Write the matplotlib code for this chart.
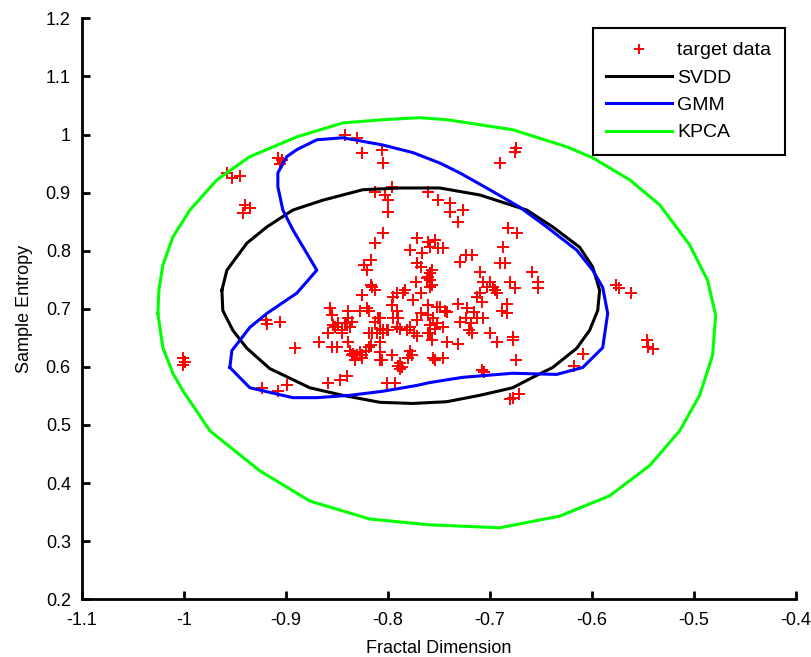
import numpy as np
import matplotlib
matplotlib.use("Agg")
import matplotlib.pyplot as plt

plt.rcParams['font.family'] = ['Liberation Sans', 'DejaVu Sans']

# target samples: (fractal dimension, sample entropy)
target_x = [
    -0.842, -0.830, -0.825, -0.806, -0.805, -0.908, -0.904, -0.906, -0.958, -0.953,
    -0.945, -0.940, -0.935, -0.942, -0.674, -0.675, -0.690, -1.001, -0.999, -1.001,
    -0.919, -0.906, -0.918, -0.891, -0.923, -0.908, -0.899, -0.576, -0.573, -0.561,
    -0.546, -0.545, -0.540, -0.609, -0.617, -0.680, -0.677, -0.671, -0.708, -0.706,
    -0.813, -0.803, -0.800, -0.800, -0.796, -0.805, -0.813, -0.816, -0.823, -0.820,
    -0.816, -0.813, -0.825, -0.761, -0.751, -0.739, -0.739, -0.726, -0.731, -0.682,
    -0.673, -0.687, -0.771, -0.761, -0.754, -0.759, -0.751, -0.746, -0.778, -0.766,
    -0.771, -0.767, -0.759, -0.761, -0.757, -0.759, -0.757, -0.762, -0.772, -0.723,
    -0.717, -0.729, -0.690, -0.685, -0.710, -0.707, -0.700, -0.703, -0.697, -0.693,
    -0.710, -0.712, -0.708, -0.680, -0.675, -0.659, -0.653, -0.653, -0.783, -0.791,
    -0.795, -0.796, -0.775, -0.761, -0.752, -0.767, -0.759, -0.785, -0.749, -0.744,
    -0.731, -0.722, -0.712, -0.683, -0.688, -0.683, -0.695,
    -0.808, -0.801, -0.805, -0.795, -0.790, -0.771, -0.767, -0.761, -0.756, -0.742,
    -0.759, -0.754, -0.759, -0.757, -0.746, -0.752, -0.715, -0.723, -0.718, -0.720,
    -0.707, -0.729, -0.717, -0.700, -0.693, -0.677, -0.677, -0.774, -0.778, -0.788,
    -0.781, -0.771, -0.761, -0.742, -0.731, -0.808, -0.796, -0.788, -0.788, -0.778,
    -0.776, -0.780, -0.756, -0.754, -0.746, -0.801, -0.793, -0.674,
    -0.857, -0.855, -0.839, -0.839, -0.827, -0.818, -0.825, -0.815, -0.810, -0.813,
    -0.791, -0.820, -0.867, -0.855, -0.859, -0.850, -0.849, -0.852, -0.845, -0.840,
    -0.835, -0.845, -0.839, -0.837, -0.835, -0.830, -0.827, -0.825, -0.832, -0.818,
    -0.821, -0.818, -0.815, -0.811, -0.808, -0.805, -0.800, -0.791, -0.808, -0.808,
    -0.806, -0.790, -0.786, -0.859, -0.847, -0.840, -0.854, -0.842, -0.837, -0.834,
    -0.825, -0.816,
]
target_y = [
    1.000, 0.994, 0.969, 0.974, 0.951, 0.960, 0.956, 0.950, 0.934, 0.925,
    0.929, 0.879, 0.874, 0.865, 0.977, 0.970, 0.951, 0.616, 0.609, 0.604,
    0.680, 0.677, 0.673, 0.632, 0.563, 0.559, 0.568, 0.741, 0.735, 0.728,
    0.646, 0.634, 0.630, 0.623, 0.602, 0.545, 0.547, 0.554, 0.594, 0.592,
    0.901, 0.896, 0.887, 0.867, 0.910, 0.830, 0.813, 0.784, 0.775, 0.767,
    0.741, 0.732, 0.723, 0.901, 0.887, 0.882, 0.867, 0.870, 0.849, 0.839,
    0.830, 0.806, 0.822, 0.815, 0.818, 0.806, 0.804, 0.804, 0.801, 0.796,
    0.779, 0.772, 0.761, 0.754, 0.767, 0.749, 0.741, 0.753, 0.746, 0.792,
    0.792, 0.780, 0.779, 0.779, 0.763, 0.746, 0.746, 0.737, 0.737, 0.728,
    0.727, 0.720, 0.711, 0.746, 0.735, 0.763, 0.746, 0.735, 0.732, 0.727,
    0.720, 0.706, 0.715, 0.706, 0.703, 0.727, 0.737, 0.728, 0.703, 0.697,
    0.709, 0.701, 0.684, 0.709, 0.697, 0.692, 0.732,
    0.685, 0.663, 0.659, 0.685, 0.685, 0.680, 0.692, 0.689, 0.685, 0.694,
    0.672, 0.666, 0.659, 0.646, 0.668, 0.675, 0.694, 0.685, 0.675, 0.663,
    0.684, 0.677, 0.659, 0.658, 0.642, 0.651, 0.646, 0.659, 0.668, 0.666,
    0.663, 0.654, 0.658, 0.642, 0.640, 0.611, 0.620, 0.606, 0.597, 0.628,
    0.620, 0.616, 0.616, 0.611, 0.616, 0.573, 0.573, 0.611,
    0.701, 0.689, 0.697, 0.685, 0.697, 0.697, 0.723, 0.737, 0.685, 0.677,
    0.697, 0.701, 0.642, 0.634, 0.658, 0.634, 0.675, 0.668, 0.663, 0.675,
    0.677, 0.658, 0.642, 0.628, 0.620, 0.620, 0.625, 0.620, 0.611, 0.634,
    0.628, 0.658, 0.658, 0.658, 0.666, 0.663, 0.663, 0.668, 0.642, 0.625,
    0.611, 0.602, 0.599, 0.573, 0.577, 0.585, 0.672, 0.675, 0.668, 0.623,
    0.616, 0.637,
]

# decision boundaries traced around the target class
svdd_x = [-0.9627, -0.9578, -0.9382, -0.9186, -0.8931, -0.8637, -0.8245, -0.7882,
          -0.7490, -0.7098, -0.6637, -0.6382, -0.6118, -0.5990, -0.5922, -0.5941,
          -0.6020, -0.6147, -0.6382, -0.6578, -0.6775, -0.7098, -0.7422, -0.7755,
          -0.8078, -0.8441, -0.8765, -0.9157, -0.9382, -0.9520, -0.9618, -0.9627]
svdd_y = [0.732, 0.7665, 0.813, 0.841, 0.870, 0.887, 0.905, 0.908,
          0.908, 0.896, 0.870, 0.841, 0.806, 0.772, 0.732, 0.697,
          0.663, 0.632, 0.599, 0.582, 0.564, 0.551, 0.540, 0.537,
          0.539, 0.551, 0.564, 0.597, 0.632, 0.663, 0.697, 0.732]

gmm_x = [-0.9549, -0.9529, -0.9353, -0.9186, -0.8892, -0.8696, -0.8931, -0.9029,
         -0.9078, -0.9078, -0.8990, -0.8892, -0.8696, -0.8441, -0.8049, -0.7755,
         -0.7490, -0.7294, -0.7000, -0.6706, -0.6441, -0.6147, -0.5990, -0.5892,
         -0.5843, -0.5892, -0.6088, -0.6343, -0.6775, -0.7265, -0.7588, -0.7716,
         -0.8049, -0.8373, -0.8696, -0.8931, -0.9353, -0.9549]
gmm_y = [0.599, 0.628, 0.668, 0.692, 0.727, 0.7665, 0.836, 0.870,
         0.910, 0.934, 0.962, 0.974, 0.991, 0.9945, 0.982, 0.969,
         0.951, 0.934, 0.905, 0.875, 0.841, 0.801, 0.7665, 0.737,
         0.692, 0.633, 0.599, 0.587, 0.589, 0.582, 0.573, 0.568,
         0.558, 0.551, 0.547, 0.547, 0.564, 0.599]

kpca_x = [-1.0255, -1.0245, -1.0206, -1.0108, -0.9941, -0.9676, -0.9353, -0.8892,
          -0.8441, -0.8049, -0.7686, -0.7422, -0.6775, -0.6245, -0.5990, -0.5627,
          -0.5333, -0.5039, -0.4863, -0.4784, -0.4814, -0.4941, -0.5137, -0.5431,
          -0.5824, -0.6314, -0.6902, -0.7588, -0.8176, -0.8765, -0.9255, -0.9745,
          -1.0010, -1.0108, -1.0206, -1.0255]
kpca_y = [0.692, 0.732, 0.775, 0.8235, 0.870, 0.922, 0.962, 0.996,
          1.020, 1.0256, 1.029, 1.0256, 1.0083, 0.979, 0.960, 0.922,
          0.879, 0.810, 0.749, 0.689, 0.620, 0.551, 0.490, 0.430,
          0.378, 0.343, 0.323, 0.328, 0.338, 0.369, 0.421, 0.490,
          0.559, 0.589, 0.633, 0.692]

FS = 13

fig = plt.figure(figsize=(8.11, 6.57), dpi=100)
ax = fig.add_axes([0.101, 0.088, 0.880, 0.884])

ax.plot(target_x, target_y, '+', color='red', markersize=9, markeredgewidth=1.4,
        label='target data')
ax.plot(svdd_x, svdd_y, '-', color='black', lw=2.2, label='SVDD')
ax.plot(gmm_x, gmm_y, '-', color='blue', lw=2.2, label='GMM')
ax.plot(kpca_x, kpca_y, '-', color='#00ff00', lw=2.2, label='KPCA')

ax.set_xlim(-1.1, -0.4)
ax.set_ylim(0.2, 1.2)
ax.set_xticks(np.arange(-1.1, -0.39, 0.1))
ax.set_xticklabels(['-1.1', '-1', '-0.9', '-0.8', '-0.7', '-0.6', '-0.5', '-0.4'])
ax.set_yticks(np.arange(0.2, 1.21, 0.1))
ax.set_yticklabels(['0.2', '0.3', '0.4', '0.5', '0.6', '0.7', '0.8', '0.9', '1', '1.1', '1.2'])

for s in ['top', 'right']:
    ax.spines[s].set_visible(False)
for s in ['left', 'bottom']:
    ax.spines[s].set_linewidth(2.0)
ax.tick_params(direction='in', length=6, width=2.0, labelsize=FS)
ax.tick_params(axis='x', pad=9)
ax.tick_params(axis='y', pad=8)

ax.set_xlabel('Fractal Dimension', fontsize=FS, labelpad=8)
ax.set_ylabel('Sample Entropy', fontsize=FS, labelpad=9)

leg = ax.legend(loc='upper right', bbox_to_anchor=(0.985, 0.983), borderaxespad=0,
                fontsize=14, numpoints=1, markerscale=0.8, handlelength=3.4,
                labelspacing=0.5, fancybox=False, framealpha=1, borderpad=0.7,
                handletextpad=0.25)
leg.get_frame().set_edgecolor('black')
leg.get_frame().set_linewidth(1.5)

fig.savefig('out.png', dpi=100)
